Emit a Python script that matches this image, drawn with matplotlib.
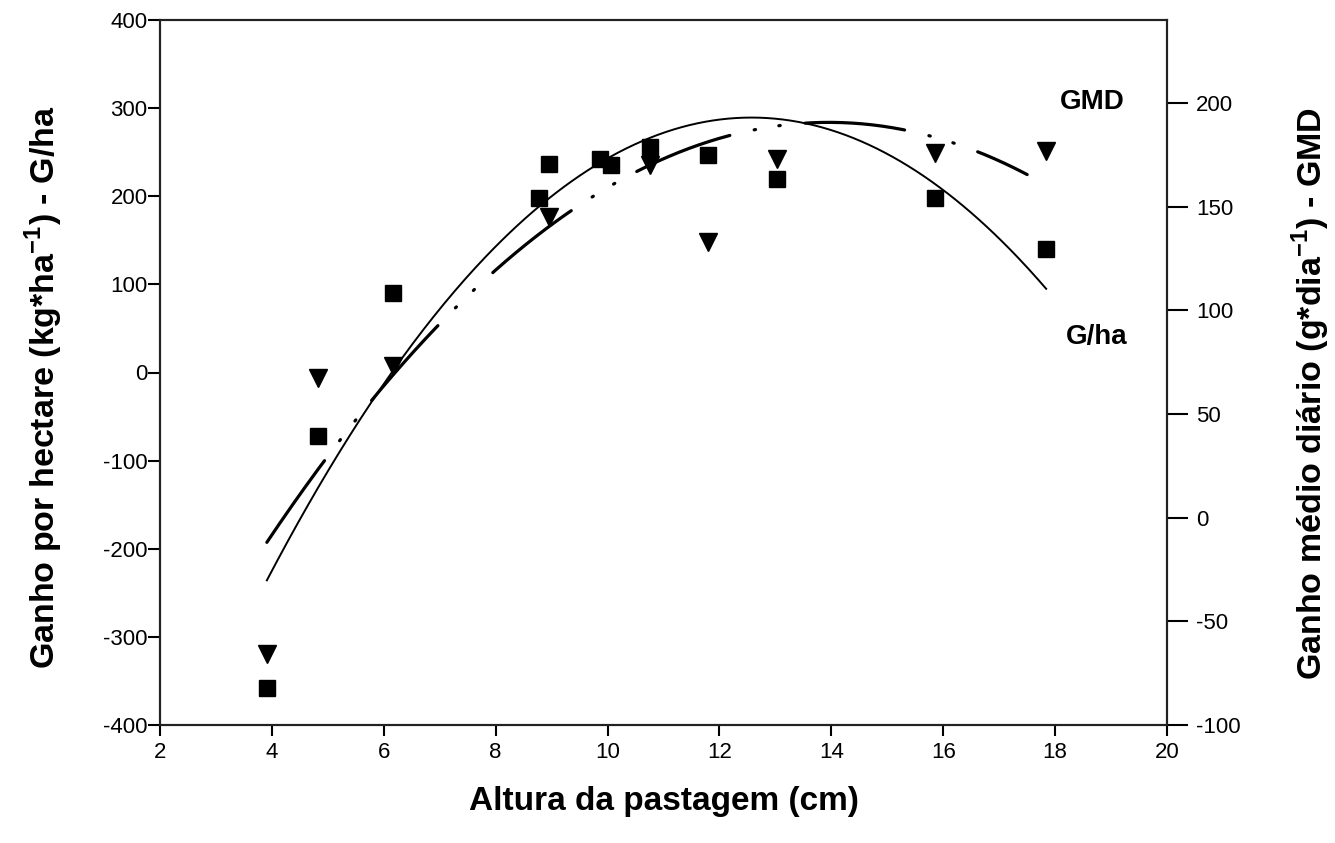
import matplotlib
matplotlib.use('Agg')
import matplotlib.pyplot as plt
import numpy as np

# pasture height (cm) and gain per hectare (kg/ha) - squares, left axis
x_gha = [3.91, 4.82, 6.17, 8.77, 8.96, 9.86, 10.07, 10.75, 11.79, 13.02, 15.86, 17.84]
gha = [-358, -72, 90, 198, 237, 242, 235, 256, 247, 220, 198, 140]

# pasture height (cm) and average daily gain (g/day) - triangles, right axis
x_gmd = [3.91, 4.82, 6.17, 8.96, 10.75, 11.79, 13.02, 15.86, 17.84]
gmd = [-65.6, 67.5, 73, 145, 170, 133, 173, 176, 177]

# quadratic regressions (a, b, c) and their x range
gha_coef = [-7.0, 176.0, -817.0]
gha_range = [3.91, 17.84]
gmd_coef = [-2.006, 56.0, -200.2]
gmd_range = [3.91, 17.5]

plt.rcParams['font.family'] = ['Liberation Sans', 'DejaVu Sans']
plt.rcParams['mathtext.fontset'] = 'custom'
plt.rcParams['mathtext.rm'] = 'Liberation Sans'
plt.rcParams['mathtext.bf'] = 'Liberation Sans:bold'
plt.rcParams['axes.unicode_minus'] = False
plt.rcParams['lines.scale_dashes'] = False

fig = plt.figure(figsize=(13.35, 8.43), dpi=100)
ax = fig.add_axes([160/1335, 1-725/843, (1167-160)/1335, (725-20)/843])
ax2 = ax.twinx()

# regression curves
xs = np.linspace(gha_range[0], gha_range[1], 300)
ax.plot(xs, np.polyval(gha_coef, xs), color='black', linewidth=1.4, linestyle='-')
xs2 = np.linspace(gmd_range[0], gmd_range[1], 300)
ax2.plot(xs2, np.polyval(gmd_coef, xs2), color='black', linewidth=2.3,
         linestyle=(0, (72, 18, 1, 17, 1, 18)), dash_capstyle='round')

# points
ax.plot(x_gha, gha, linestyle='none', marker='s', markersize=12, color='black', zorder=5)
ax2.plot(x_gmd, gmd, linestyle='none', marker='v', markersize=12.5, color='black', zorder=5)

ax.set_xlim(2, 20)
ax.set_ylim(-400, 400)
ax2.set_ylim(-100, 240)
ax.set_xticks(range(2, 21, 2))
ax.set_yticks(range(-400, 401, 100))
ax2.set_yticks(range(-100, 201, 50))

for a in (ax, ax2):
    for s in a.spines.values():
        s.set_linewidth(1.5)
        s.set_color('#222222')
ax.tick_params(axis='x', direction='out', length=8, width=1.5, labelsize=16, pad=4)
ax.tick_params(axis='y', direction='out', length=8.5, width=1.5, labelsize=16, pad=0.5)
ax2.tick_params(axis='y', direction='out', length=15, width=1.5, labelsize=16, pad=6)

ax.set_xlabel('Altura da pastagem (cm)', fontsize=24, fontweight='bold', labelpad=17)
ax.set_ylabel(r'Ganho por hectare (kg*ha$^{\mathbf{-1}}$) - G/ha', fontsize=24.5, fontweight='bold', labelpad=27)
ax2.set_ylabel(r'Ganho médio diário (g*dia$^{\mathbf{-1}}$) - GMD', fontsize=24.5, fontweight='bold', labelpad=35)
ax.yaxis.label.set_y(0.479)
ax2.yaxis.label.set_y(0.47)

# curve labels
ax.text(18.66, 307, 'GMD', fontsize=20, fontweight='bold', ha='center', va='center')
ax.text(18.75, 40, 'G/ha', fontsize=20, fontweight='bold', ha='center', va='center')

plt.savefig('out.png', dpi=100)
